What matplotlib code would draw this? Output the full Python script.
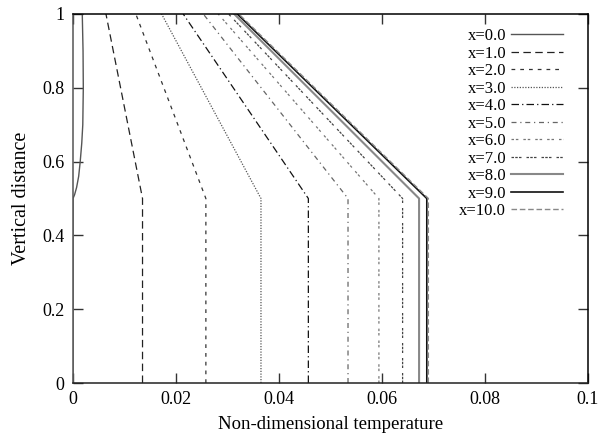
import matplotlib
matplotlib.use("Agg")
import matplotlib.pyplot as plt

plt.rcParams['font.family'] = ['Liberation Serif', 'DejaVu Serif']

# Data
labels = ["x=0.0", "x=1.0", "x=2.0", "x=3.0", "x=4.0", "x=5.0",
          "x=6.0", "x=7.0", "x=8.0", "x=9.0", "x=10.0"]
# x=0 profile (curved part above y=0.5)
y_x0 = [0.0, 0.5, 0.51, 0.53, 0.56, 0.6, 0.65, 0.7, 0.8, 0.9, 1.0]
t_x0 = [0.0, 0.0, 0.0003, 0.0007, 0.0011, 0.0014, 0.0017, 0.0019, 0.0020, 0.00195, 0.0018]
# x=1..10 profiles: constant below y=0.5, linear to top
y_prof = [0.0, 0.5, 1.0]
t_bottom = [0.0135, 0.0258, 0.0365, 0.0457, 0.0534, 0.0594, 0.0640, 0.0672, 0.0687, 0.0690]
t_top = [0.0064, 0.0122, 0.0172, 0.0214, 0.0253, 0.0282, 0.0302, 0.0313, 0.0319, 0.0322]

xticks = [0, 0.02, 0.04, 0.06, 0.08, 0.1]
xticklabels = ["0", "0.02", "0.04", "0.06", "0.08", "0.1"]
yticks = [0, 0.2, 0.4, 0.6, 0.8, 1.0]
yticklabels = ["0", "0.2", "0.4", "0.6", "0.8", "1"]

styles = [
    dict(color='#555555', ls='-', lw=1.0),
    dict(color='#222222', ls=(0, (6, 3.5)), lw=0.9),
    dict(color='#333333', ls=(0, (3, 4)), lw=0.9),
    dict(color='#555555', ls=(0, (1, 1.2)), lw=0.9),
    dict(color='#111111', ls=(0, (6, 2.5, 1, 2.5)), lw=0.9),
    dict(color='#666666', ls=(0, (4, 3, 1, 3)), lw=0.9),
    dict(color='#777777', ls=(0, (2, 1.5, 2, 4)), lw=0.9),
    dict(color='#444444', ls=(0, (2, 1, 2, 1, 2, 4)), lw=0.9),
    dict(color='#888888', ls='-', lw=1.5),
    dict(color='#111111', ls='-', lw=1.2),
    dict(color='#888888', ls=(0, (4, 2)), lw=1.0),
]

fig = plt.figure(figsize=(5.98, 4.36), dpi=100)
ax = fig.add_axes([73/598, 53/436, 515/598, 369/436])

ax.plot(t_x0, y_x0, label=labels[0], **styles[0])
for i in range(10):
    ts = [t_bottom[i], t_bottom[i], t_top[i]]
    ax.plot(ts, y_prof, label=labels[i + 1], **styles[i + 1])

ax.set_xlim(0, 0.1)
ax.set_ylim(0, 1)
ax.set_xticks(xticks)
ax.set_xticklabels(xticklabels)
ax.set_yticks(yticks)
ax.set_yticklabels(yticklabels)
ax.tick_params(direction='in', length=7, width=1, top=True, right=True,
               labelsize=13, pad=6, colors='#333333', labelcolor='black')
for s in ax.spines.values():
    s.set_linewidth(1.1)
ax.spines['left'].set_color('#555555')
ax.spines['bottom'].set_color('#222222')

ax.set_xlabel("Non-dimensional temperature", fontsize=13.5, labelpad=5.5)
ax.set_ylabel("Vertical distance", fontsize=14.5, labelpad=8)

leg = ax.legend(loc='upper right', frameon=False, markerfirst=False,
                fontsize=12, handlelength=3.1, labelspacing=0.09,
                handletextpad=0.3, borderaxespad=0.0, borderpad=0.0,
                bbox_to_anchor=(0.951, 0.962))

fig.savefig("out.png", dpi=100)
